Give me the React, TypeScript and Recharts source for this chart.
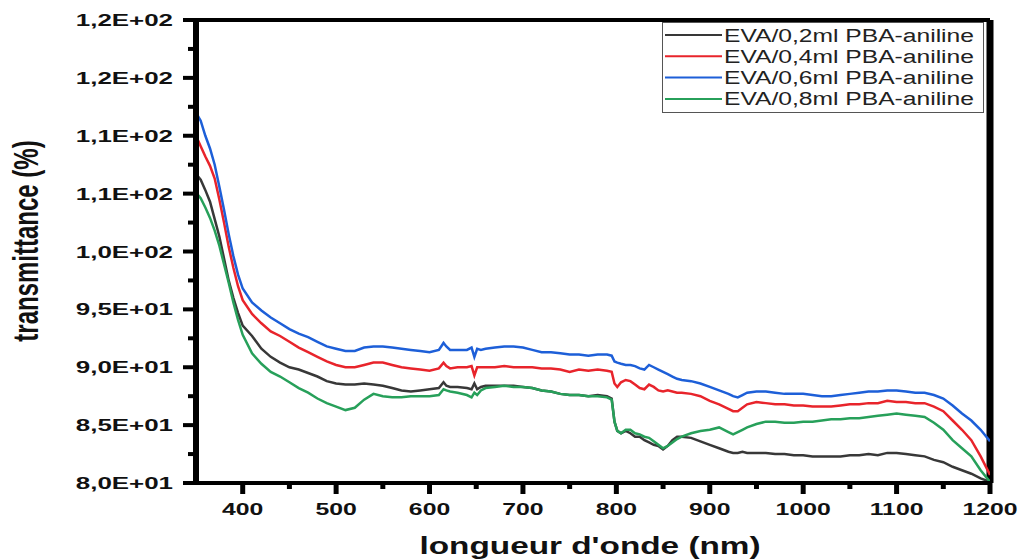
import React from "react";
import { LineChart, Line, XAxis, YAxis, Legend, ReferenceLine } from "recharts";

// wavelength (nm), shared by the four spectra
const wavelengths = [
  350, 355, 360, 365, 370, 375, 380, 385, 390, 395,
  400, 410, 420, 430, 440, 450, 460, 470, 480, 490,
  500, 510, 520, 530, 540, 550, 560, 570, 580, 590,
  600, 610, 615, 618, 622, 630, 640, 645, 648, 651,
  655, 660, 670, 680, 690, 700, 710, 720, 730, 740,
  750, 760, 770, 780, 790, 795, 798, 801, 805, 810,
  815, 820, 825, 830, 835, 840, 845, 850, 855, 860,
  865, 870, 880, 890, 900, 910, 920, 925, 930, 935,
  940, 950, 960, 970, 980, 990, 1000, 1010, 1020, 1030,
  1040, 1050, 1060, 1070, 1080, 1090, 1100, 1110, 1120, 1130,
  1140, 1150, 1160, 1170, 1180, 1190, 1200,
];

const eva02 = [
  106.7, 106.2, 105.3, 104.3, 102.8, 101.3, 99.4, 97.5, 96.0, 94.7,
  93.6, 92.7, 91.6, 90.9, 90.4, 90.0, 89.8, 89.5, 89.2, 88.8,
  88.6, 88.5, 88.5, 88.6, 88.5, 88.4, 88.2, 88.0, 87.9, 88.0,
  88.1, 88.2, 88.7, 88.4, 88.3, 88.3, 88.2, 88.1, 88.6, 88.1,
  88.3, 88.4, 88.4, 88.4, 88.4, 88.3, 88.2, 88.0, 87.9, 87.7,
  87.6, 87.6, 87.5, 87.6, 87.5, 87.3, 85.3, 84.5, 84.3, 84.5,
  84.3, 84.0, 84.0, 83.7, 83.5, 83.3, 83.2, 82.9, 83.2, 83.7,
  84.0, 84.0, 83.9, 83.6, 83.3, 83.0, 82.7, 82.6, 82.6, 82.7,
  82.6, 82.6, 82.6, 82.5, 82.5, 82.4, 82.4, 82.3, 82.3, 82.3,
  82.3, 82.4, 82.4, 82.5, 82.4, 82.6, 82.6, 82.5, 82.4, 82.3,
  82.0, 81.8, 81.4, 81.1, 80.8, 80.4, 80.1,
];

const eva04 = [
  110.0, 109.1, 108.2, 107.4, 106.3, 104.5, 102.5, 100.4, 98.6, 97.0,
  95.8, 94.6, 93.8, 93.1, 92.7, 92.2, 91.7, 91.3, 90.9, 90.5,
  90.2, 90.0, 90.0, 90.2, 90.4, 90.4, 90.2, 90.0, 89.9, 89.8,
  89.7, 89.9, 90.4, 90.1, 89.9, 90.0, 90.0, 90.1, 89.3, 90.0,
  90.0, 90.0, 90.0, 90.1, 90.0, 90.0, 90.0, 89.9, 89.9, 89.8,
  89.6, 89.8, 89.7, 89.8, 89.7, 89.6, 88.6, 88.3, 88.7, 88.9,
  88.8, 88.5, 88.2, 88.1, 88.5, 88.3, 88.0, 87.9, 88.0, 87.9,
  87.8, 87.8, 87.7, 87.5, 87.1, 86.8, 86.4, 86.2, 86.2, 86.5,
  86.8, 87.0, 86.9, 86.8, 86.8, 86.7, 86.7, 86.6, 86.6, 86.6,
  86.7, 86.8, 86.8, 86.9, 86.9, 87.1, 87.0, 87.0, 86.9, 86.9,
  86.6, 86.2, 85.4, 84.6, 83.7, 82.3, 80.7,
];

const eva06 = [
  112.0, 111.3, 110.0, 108.9, 107.5, 105.6, 103.6, 101.5, 99.6, 98.0,
  96.8, 95.6, 94.9, 94.3, 93.8, 93.3, 92.9, 92.6, 92.2, 91.8,
  91.6, 91.4, 91.4, 91.7, 91.8, 91.8, 91.7, 91.6, 91.5, 91.4,
  91.3, 91.5, 92.1, 91.8, 91.5, 91.5, 91.5, 91.7, 90.9, 91.6,
  91.5, 91.6, 91.7, 91.8, 91.8, 91.7, 91.5, 91.3, 91.3, 91.2,
  91.1, 91.1, 91.0, 91.1, 91.1, 91.0, 90.5, 90.4, 90.3, 90.2,
  90.2, 90.1, 89.9, 89.8, 90.2, 90.0, 89.8, 89.6, 89.4, 89.2,
  89.0, 88.9, 88.8, 88.6, 88.3, 88.0, 87.7, 87.5, 87.4, 87.6,
  87.8, 87.9, 87.9, 87.8, 87.7, 87.7, 87.7, 87.6, 87.5, 87.5,
  87.6, 87.7, 87.8, 87.9, 87.9, 88.0, 88.0, 87.9, 87.8, 87.8,
  87.6, 87.3, 86.7, 86.0, 85.4, 84.6, 83.6,
];

const eva08 = [
  105.1, 104.6, 103.8, 102.9, 101.8, 100.5, 98.9, 97.3, 95.6, 94.1,
  92.8, 91.2, 90.3, 89.6, 89.2, 88.7, 88.2, 87.8, 87.3, 86.9,
  86.6, 86.3, 86.5, 87.2, 87.7, 87.5, 87.4, 87.4, 87.5, 87.5,
  87.5, 87.6, 88.1, 88.0, 87.9, 87.8, 87.6, 87.4, 87.8, 87.6,
  88.0, 88.2, 88.3, 88.4, 88.3, 88.3, 88.2, 88.0, 87.9, 87.7,
  87.6, 87.6, 87.5, 87.5, 87.4, 87.2, 85.3, 84.5, 84.3, 84.6,
  84.6, 84.3, 84.2, 84.0, 83.9, 83.6, 83.3, 83.0, 83.2, 83.5,
  83.8, 84.0, 84.3, 84.5, 84.6, 84.8, 84.4, 84.2, 84.4, 84.6,
  84.8, 85.1, 85.3, 85.3, 85.2, 85.2, 85.3, 85.3, 85.4, 85.5,
  85.5, 85.6, 85.6, 85.7, 85.8, 85.9, 86.0, 85.9, 85.8, 85.7,
  85.2, 84.6, 83.7, 83.0, 82.3, 81.1, 80.1,
];

const seriesNames = [
  "EVA/0,2ml PBA-aniline",
  "EVA/0,4ml PBA-aniline",
  "EVA/0,6ml PBA-aniline",
  "EVA/0,8ml PBA-aniline",
];
const seriesColors = ["#383838", "#e8242b", "#1d5fd8", "#27a05a"];
const seriesValues = [eva02, eva04, eva06, eva08];

const xMajor = [400, 500, 600, 700, 800, 900, 1000, 1100, 1200];
const xMinor = [450, 550, 650, 750, 850, 950, 1050, 1150];
const yMajor = [80, 85, 90, 95, 100, 105, 110, 115, 120];
const yLabels = ["8,0E+01", "8,5E+01", "9,0E+01", "9,5E+01", "1,0E+02", "1,1E+02", "1,1E+02", "1,2E+02", "1,2E+02"];
const yMinor = [82.5, 87.5, 92.5, 97.5, 102.5, 107.5, 112.5, 117.5];

const data = wavelengths.map((w, i) => {
  const row: Record<string, number> = { w };
  seriesValues.forEach((vals, k) => (row["s" + k] = vals[i]));
  return row;
});

const FONT = "'Liberation Sans', Arial, sans-serif";

function XTick(props: any) {
  const { x, y, payload } = props;
  const major = xMajor.includes(payload.value);
  return (
    <g>
      <line x1={x} x2={x} y1={y} y2={y + (major ? 11 : 6)} stroke="#000" strokeWidth={5} />
      {major ? (
        <g transform={`translate(${x},${y + 32}) scale(1.55,1)`}>
          <text textAnchor="middle" fontFamily={FONT} fontWeight="bold" fontSize={16} fill="#111">
            {payload.value}
          </text>
        </g>
      ) : null}
    </g>
  );
}

function YTick(props: any) {
  const { x, y, payload } = props;
  const idx = yMajor.indexOf(payload.value);
  return (
    <g>
      <line x1={x - (idx >= 0 ? 13 : 8)} x2={x} y1={y} y2={y} stroke="#000" strokeWidth={4} />
      {idx >= 0 ? (
        <g transform={`translate(${x - 23},${y + 6}) scale(1.62,1)`}>
          <text textAnchor="end" fontFamily={FONT} fontWeight="bold" fontSize={16} fill="#111">
            {yLabels[idx]}
          </text>
        </g>
      ) : null}
    </g>
  );
}

const xTitle = () => (
  <g transform="translate(590,554) scale(1.45,1)">
    <text textAnchor="middle" fontFamily={FONT} fontWeight="bold" fontSize={23} fill="#111">
      longueur d'onde (nm)
    </text>
  </g>
);

const yTitle = () => (
  <g transform="translate(38,241) scale(1.5,1) rotate(-90)">
    <text textAnchor="middle" fontFamily={FONT} fontWeight="bold" fontSize={24} fill="#111">
      transmittance (%)
    </text>
  </g>
);

const renderLegend = () => (
  <svg width={322} height={91} style={{ display: "block" }}>
    <rect x={0.5} y={0.5} width={321} height={90} fill="#fff" stroke="#555" strokeWidth={1} />
    {seriesNames.map((name, i) => {
      const cy = 13 + i * 21.3;
      return (
        <g key={name}>
          <line x1={3} x2={60} y1={cy} y2={cy} stroke={seriesColors[i]} strokeWidth={2} />
          <text
            x={62}
            y={cy + 6.5}
            fontFamily={FONT}
            fontSize={18}
            fill="#222"
            textLength={250}
            lengthAdjust="spacingAndGlyphs"
          >
            {name}
          </text>
        </g>
      );
    })}
  </svg>
);

export default function App() {
  return (
    <div style={{ position: "absolute", left: 0, top: 0, width: 1022, height: 559, background: "#fff" }}>
      <LineChart width={1022} height={559} data={data} margin={{ top: 20, right: 32, bottom: 0, left: 0 }}>
        <XAxis
          dataKey="w"
          type="number"
          domain={[350, 1200]}
          ticks={[...xMajor, ...xMinor].sort((a, b) => a - b)}
          interval={0}
          allowDataOverflow
          height={76}
          tickSize={0}
          tickMargin={0}
          tickLine={false}
          tick={<XTick />}
          axisLine={{ stroke: "#000", strokeWidth: 4 }}
          label={xTitle}
        />
        <YAxis
          type="number"
          domain={[80, 120]}
          ticks={[...yMajor, ...yMinor].sort((a, b) => a - b)}
          interval={0}
          allowDataOverflow
          width={196}
          tickSize={0}
          tickMargin={0}
          tickLine={false}
          tick={<YTick />}
          axisLine={{ stroke: "#000", strokeWidth: 6 }}
          label={yTitle}
        />
        <ReferenceLine y={120} stroke="#000" strokeWidth={4} />
        <ReferenceLine x={1200} stroke="#000" strokeWidth={7} />
        {seriesNames.map((name, i) => (
          <Line
            key={name}
            name={name}
            dataKey={"s" + i}
            type="linear"
            stroke={seriesColors[i]}
            strokeWidth={2.5}
            dot={false}
            isAnimationActive={false}
          />
        ))}
        <Legend
          layout="vertical"
          align="center"
          verticalAlign="middle"
          content={renderLegend}
          wrapperStyle={{ left: 662, top: 22, width: 322, height: 91 }}
        />
      </LineChart>
    </div>
  );
}
